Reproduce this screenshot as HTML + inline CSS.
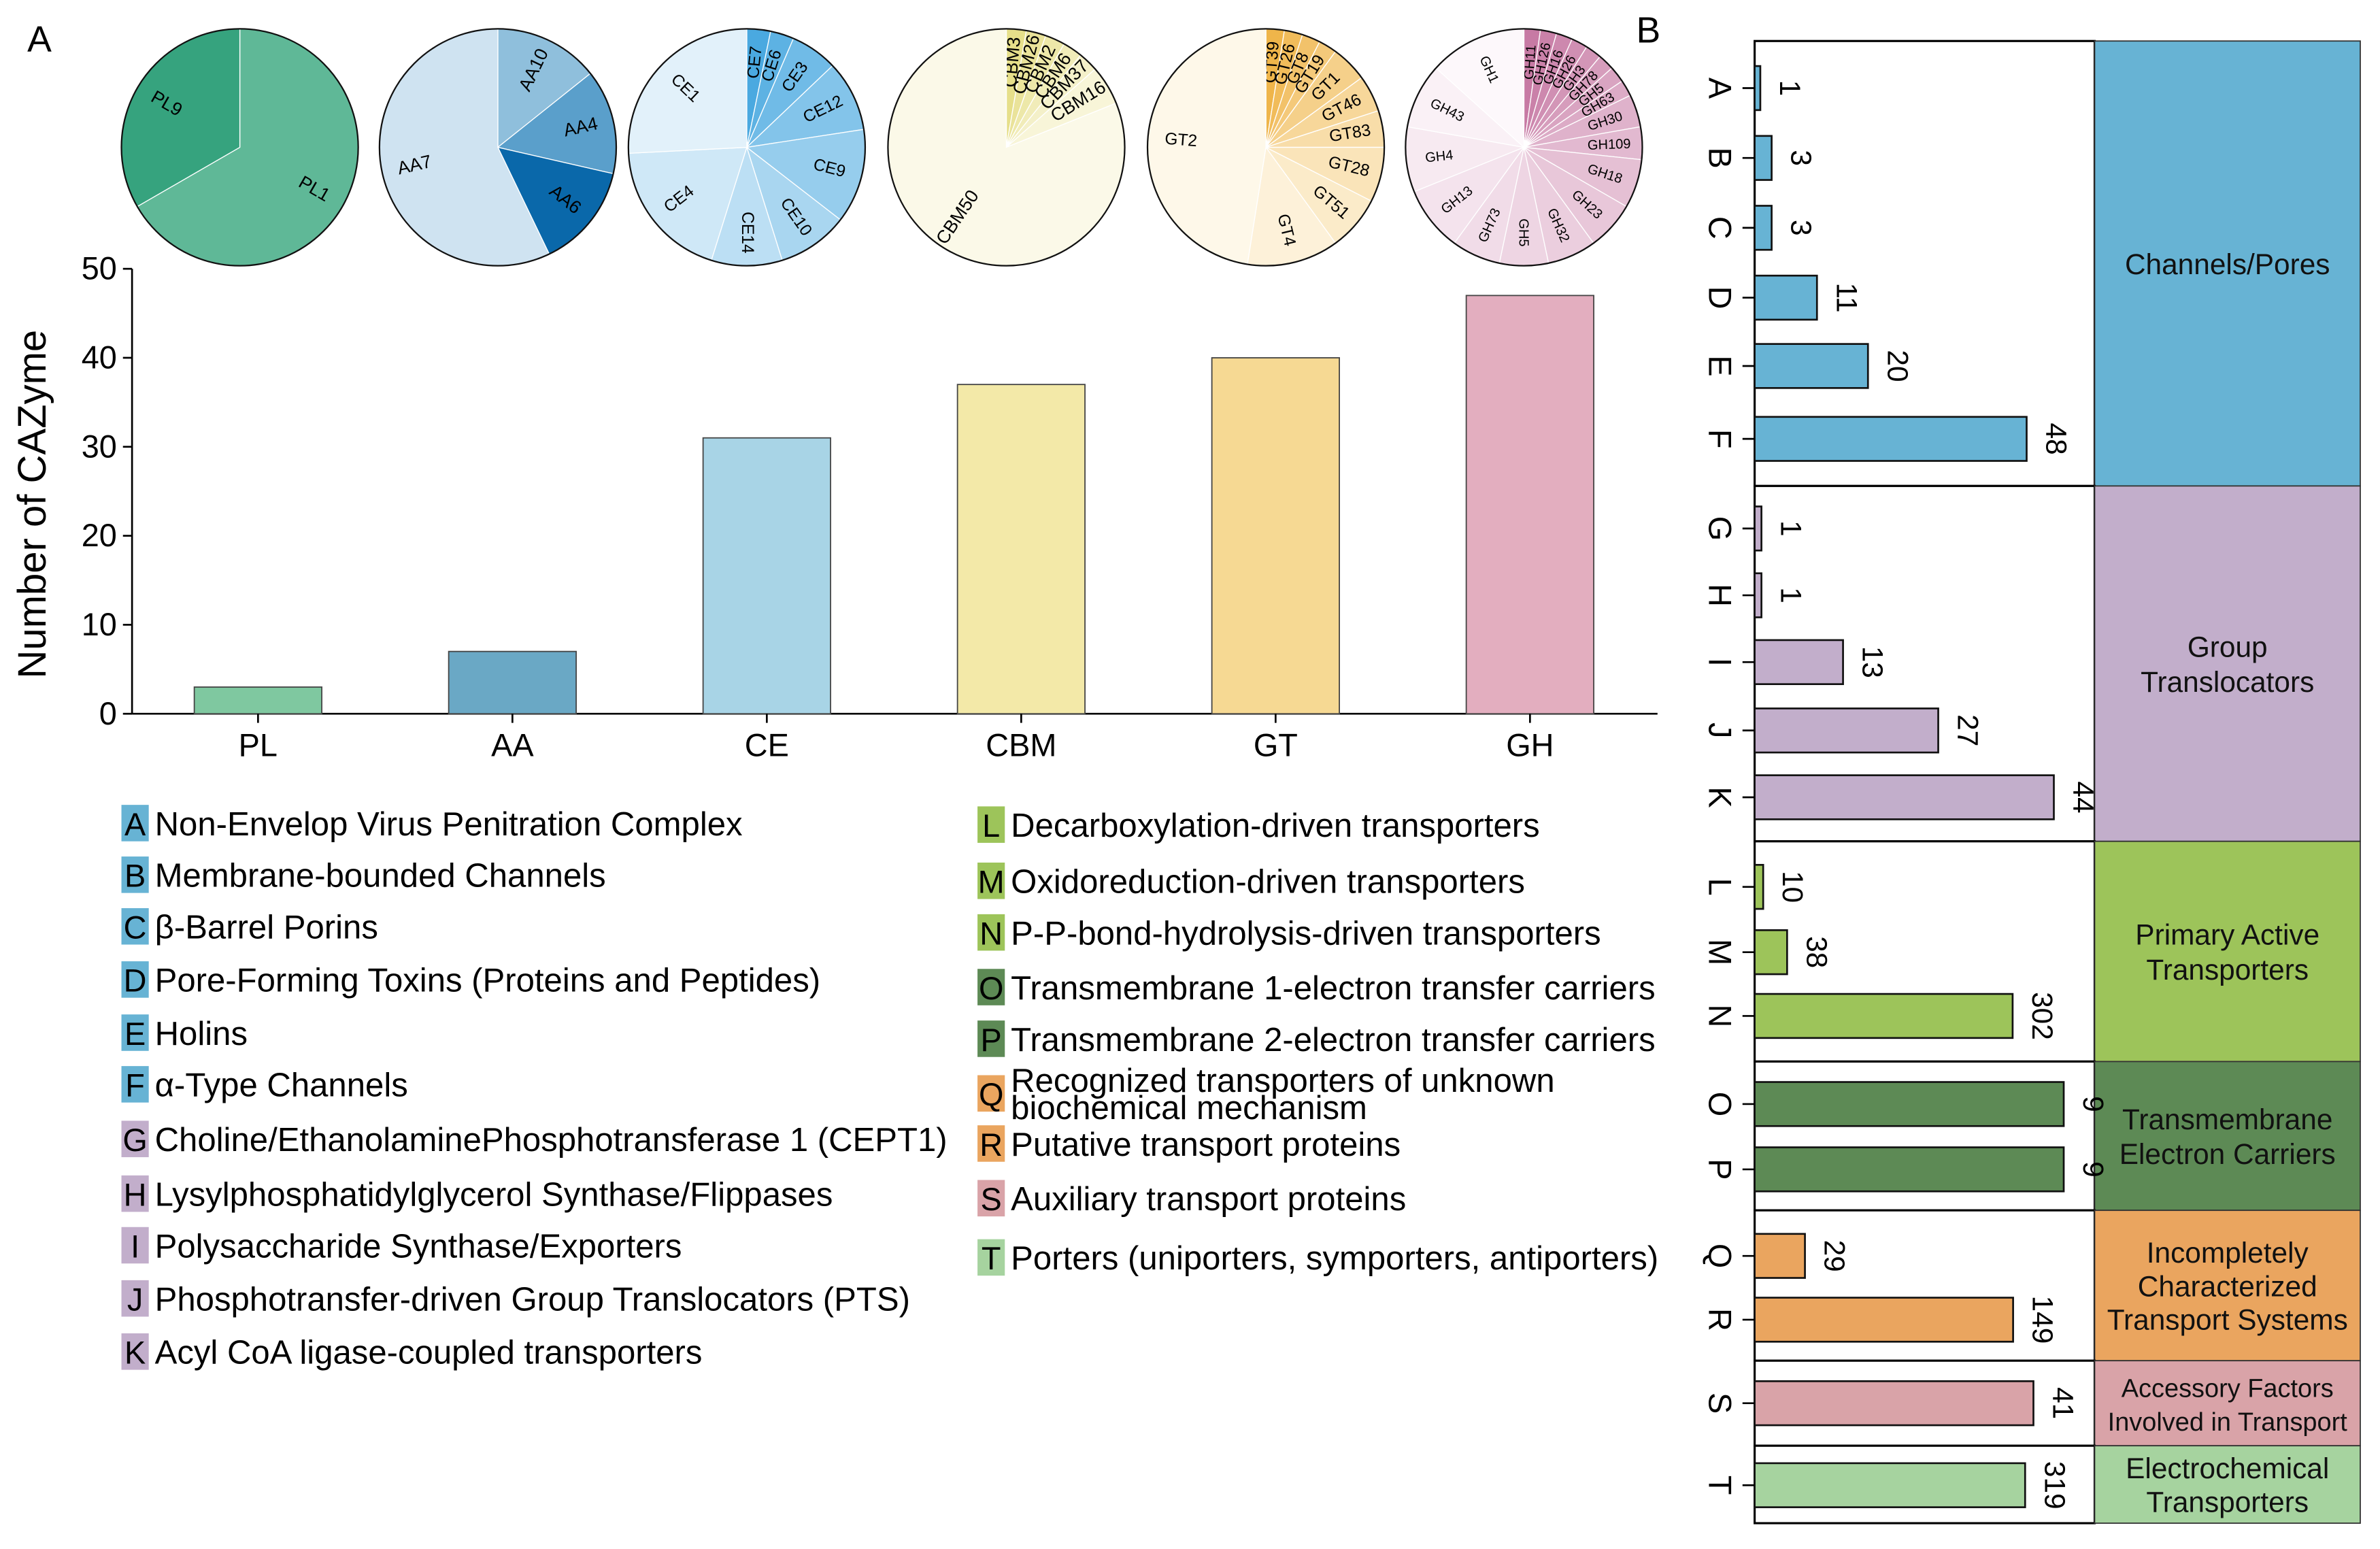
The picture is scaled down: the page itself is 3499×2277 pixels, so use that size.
<!DOCTYPE html>
<html><head><meta charset="utf-8">
<style>
html,body{margin:0;padding:0;background:#fff;}
svg{display:block;font-family:"Liberation Sans",Arial,sans-serif;}
</style></head>
<body>
<svg id="fig" width="3499" height="2277" viewBox="0 0 1568 1020" preserveAspectRatio="none" xmlns="http://www.w3.org/2000/svg">
<text x="18" y="34" font-size="24">A</text>
<text x="1078" y="28" font-size="24">B</text>
<g id="pies"></g>
<g id="bars"></g>
<g id="legend"></g>
<g id="panelb"></g>
</svg>
<script>
const NS="http://www.w3.org/2000/svg";
function mk(tag,attrs,parent,text){const e=document.createElementNS(NS,tag);for(const k in attrs)e.setAttribute(k,attrs[k]);if(text!==undefined)e.textContent=text;parent.appendChild(e);return e;}

// ---- Panel A bar data
const cazyCategories=["PL","AA","CE","CBM","GT","GH"];
const cazyCounts=[3,7,31,37,40,47];
const cazyColors=["#7fc8a0","#6aa8c5","#a8d4e6","#f3e9a8","#f6d993","#e3aebf"];
const yTicks=[0,10,20,30,40,50];

// ---- Pie data
const pieLabels=[
 ["PL1","PL9"],
 ["AA10","AA4","AA6","AA7"],
 ["CE7","CE6","CE3","CE12","CE9","CE10","CE14","CE4","CE1"],
 ["CBM3","CBM26","CBM2","CBM6","CBM37","CBM16","CBM50"],
 ["GT39","GT26","GT8","GT19","GT1","GT46","GT83","GT28","GT51","GT4","GT2"],
 ["GH11","GH126","GH16","GH26","GH3","GH78","GH5","GH63","GH30","GH109","GH18","GH23","GH32","GH5","GH73","GH13","GH4","GH43","GH1"]
];
const pieValues=[
 [2,1],
 [1,1,1,4],
 [1,1,2,3,4,3,3,6,8],
 [1,1,1,1,1,2,30],
 [1,1,1,1,2,2,2,3,3,5,19],
 [1,1,1,1,1,1,1,1,2,2,3,3,3,3,3,4,4,4,6]
];
const pieDark=["#5fb897","#0a68aa","#4aa9e0","#e6df8a","#efb54a","#c77aa4"];
const pieLight=["#36a37e","#cfe3f1","#e2f1fa","#fbf9e8","#fef8e9","#fdf8fb"];
const aaColors=["#8fbfdc","#5a9fcb","#0a68aa","#cfe3f1"];

// ---- Panel B data
const groupNames=[["Channels/Pores"],["Group","Translocators"],["Primary Active","Transporters"],["Transmembrane","Electron Carriers"],["Incompletely","Characterized","Transport Systems"],["Accessory Factors","Involved in Transport"],["Electrochemical","Transporters"]];
const groupColors=["#67b3d4","#c2aecb","#9dc45a","#5d8a55","#eaa55f","#d9a3a8","#a6d39f"];
const groupLetters=[["A","B","C","D","E","F"],["G","H","I","J","K"],["L","M","N"],["O","P"],["Q","R"],["S"],["T"]];
const groupValues=[[1,3,3,11,20,48],[1,1,13,27,44],[10,38,302],[9,9],[29,149],[41],[319]];
const groupDomainMax=[60,50,398,9.9,196,50,401];

// ---- Legend data
const legendLeft=[["A","Non-Envelop Virus Penitration Complex",0],["B","Membrane-bounded Channels",0],["C","β-Barrel Porins",0],["D","Pore-Forming Toxins (Proteins and Peptides)",0],["E","Holins",0],["F","α-Type Channels",0],["G","Choline/EthanolaminePhosphotransferase 1 (CEPT1)",1],["H","Lysylphosphatidylglycerol Synthase/Flippases",1],["I","Polysaccharide Synthase/Exporters",1],["J","Phosphotransfer-driven Group Translocators (PTS)",1],["K","Acyl CoA ligase-coupled transporters",1]];
const legendRight=[["L","Decarboxylation-driven transporters",2],["M","Oxidoreduction-driven transporters",2],["N","P-P-bond-hydrolysis-driven transporters",2],["O","Transmembrane 1-electron transfer carriers",3],["P","Transmembrane 2-electron transfer carriers",3],["Q","Recognized transporters of unknown|biochemical mechanism",4],["R","Putative transport proteins",4],["S","Auxiliary transport proteins",5],["T","Porters (uniporters, symporters, antiporters)",6]];

// ===== Panel A bars
const bars=document.getElementById('bars');
const x0=87,x1=1092,yb=470,yt=177,ymax=50;
const ys=v=>yb-(v/ymax)*(yb-yt);
const step=167.6,bw=84,xc=i=>170+i*step;
mk('line',{x1:x0,y1:yt,x2:x0,y2:yb,stroke:'#000','stroke-width':1.2,},bars);
mk('line',{x1:x0,y1:yb,x2:x1,y2:yb,stroke:'#000','stroke-width':1.2,},bars);
yTicks.forEach(t=>{
 mk('line',{x1:x0-6,y1:ys(t),x2:x0,y2:ys(t),stroke:'#000','stroke-width':1.2},bars);
 const tx=mk('text',{x:x0-10,y:ys(t)+7,'font-size':21,'text-anchor':'end'},bars,String(t));
 
 
});
const yl=mk('text',{x:0,y:0,'font-size':26,'text-anchor':'middle',transform:'translate(30,332) rotate(-90)'},bars,'Number of CAZyme');


cazyCategories.forEach((c,i)=>{
 const r=mk('rect',{x:xc(i)-bw/2,y:ys(cazyCounts[i]),width:bw,height:yb-ys(cazyCounts[i]),fill:cazyColors[i],stroke:'#444','stroke-width':0.8},bars);
 
 
 mk('line',{x1:xc(i),y1:yb,x2:xc(i),y2:yb+6,stroke:'#000','stroke-width':1.2},bars);
 const t=mk('text',{x:xc(i),y:yb+28,'font-size':21,'text-anchor':'middle'},bars,c);
 
 
});

// ===== Pies
const pies=document.getElementById('pies');
const pieCx=[158,328,492,663,834,1004],pieCy=97,pr=78;
function hex(c){return [1,3,5].map(k=>parseInt(c.substr(k,2),16));}
function mix(a,b,t){const A=hex(a),B=hex(b);return 'rgb('+A.map((v,k)=>Math.round(v+(B[k]-v)*t)).join(',')+')';}
pieValues.forEach((vals,p)=>{
 const g=mk('g',{},pies);
 
 
 const tot=vals.reduce((a,b)=>a+b,0);let a=0;const cx=pieCx[p];
 vals.forEach((v,i)=>{
  const a0=a,a1=a+v/tot*2*Math.PI;a=a1;
  const p0=[cx+pr*Math.sin(a0),pieCy-pr*Math.cos(a0)],p1=[cx+pr*Math.sin(a1),pieCy-pr*Math.cos(a1)];
  const large=(a1-a0)>Math.PI?1:0;
  let col=vals.length==1?pieDark[p]:mix(pieDark[p],pieLight[p],i/(vals.length-1));
  if(p==1) col=aaColors[i];
  const s=mk('path',{d:`M${cx},${pieCy} L${p0[0]},${p0[1]} A${pr},${pr} 0 ${large} 1 ${p1[0]},${p1[1]} Z`,fill:col,stroke:'#fff','stroke-width':0.6},g);
  
  
  const am=(a0+a1)/2,rr=pr*0.72;
  const lx=cx+rr*Math.sin(am),ly=pieCy-rr*Math.cos(am);
  let deg=am*180/Math.PI-90;if(deg>90)deg-=180;
  const fs=vals.length>12?9:(vals.length>8?11:12);
  const t=mk('text',{x:lx,y:ly+3,'font-size':fs,'text-anchor':'middle',transform:`rotate(${deg} ${lx} ${ly})`},g,pieLabels[p][i]);
  
  
 });
 mk('circle',{cx:cx,cy:pieCy,r:pr,fill:'none',stroke:'#111','stroke-width':1},g);
});

// ===== Legend
const leg=document.getElementById('legend');
function legendCol(items,xs,ys){
 items.forEach((it,i)=>{
  const g=mk('g',{},leg);
  
  
  const y=ys[i];
  mk('rect',{x:xs,y:y-20,width:18,height:24,fill:groupColors[it[2]]},g);
  mk('text',{x:xs+9,y:y,'font-size':21,'text-anchor':'middle'},g,it[0]);
  const parts=it[1].split('|');
  if(parts.length==1) mk('text',{x:xs+22,y:y,'font-size':22},g,parts[0]);
  else{mk('text',{x:xs+22,y:y-9,'font-size':22},g,parts[0]);mk('text',{x:xs+22,y:y+9,'font-size':22},g,parts[1]);}
 });
}
legendCol(legendLeft,80,[550,584,618,653,688,722,758,794,828,863,898]);
legendCol(legendRight,644,[551,588,622,658,692,728,761,797,836]);

// ===== Panel B
const pb=document.getElementById('panelb');
const bx0=1156,bx1=1380,bx2=1555;
const gTop=[27,320,554,699,797,896,952],gBot=[320,554,699,797,896,952,1003];
const barCenters=[[58,104,150,196,241,289],[348,392,436,481,525],[584,627,669],[727,770],[827,869],[924],[978]];
const bh=29;
groupValues.forEach((vals,gi)=>{
 const g=mk('g',{},pb);
 
 
 mk('rect',{x:bx0,y:gTop[gi],width:bx1-bx0,height:gBot[gi]-gTop[gi],fill:'#fff',stroke:'#000','stroke-width':1.4},g);
 const box=mk('rect',{x:bx1,y:gTop[gi],width:bx2-bx1,height:gBot[gi]-gTop[gi],fill:groupColors[gi],stroke:'#333','stroke-width':0.8},g);
 
 
 const nm=groupNames[gi],mid=(gTop[gi]+gBot[gi])/2,lh=nm.length>2||gi==5||gi==6?22:23;
 const fs=(gi==5)?17:19;
 nm.forEach((line,k)=>{
  mk('text',{x:(bx1+bx2)/2,y:mid+(k-(nm.length-1)/2)*lh+7,'font-size':fs,'text-anchor':'middle',fill:'#111'},g,line);
 });
 const sx=v=>(v/groupDomainMax[gi])*(bx1-bx0);
 vals.forEach((v,i)=>{
  const cy=barCenters[gi][i];
  const r=mk('rect',{x:bx0,y:cy-bh/2,width:sx(v),height:bh,fill:groupColors[gi],stroke:'#111','stroke-width':1.2},g);
  
  
  mk('line',{x1:bx0-8,y1:cy,x2:bx0,y2:cy,stroke:'#000','stroke-width':1.2},g);
  const lx=1133;
  const lt=mk('text',{x:lx,y:cy,'font-size':21,'text-anchor':'middle',transform:`rotate(90 ${lx} ${cy})`,dy:7},g,groupLetters[gi][i]);
  
  
  const vx=bx0+sx(v)+20;
  const vt=mk('text',{x:vx,y:cy,'font-size':19,'text-anchor':'middle',transform:`rotate(90 ${vx} ${cy})`,dy:7},g,String(v));
  
  
 });
});
</script>
</body></html>
